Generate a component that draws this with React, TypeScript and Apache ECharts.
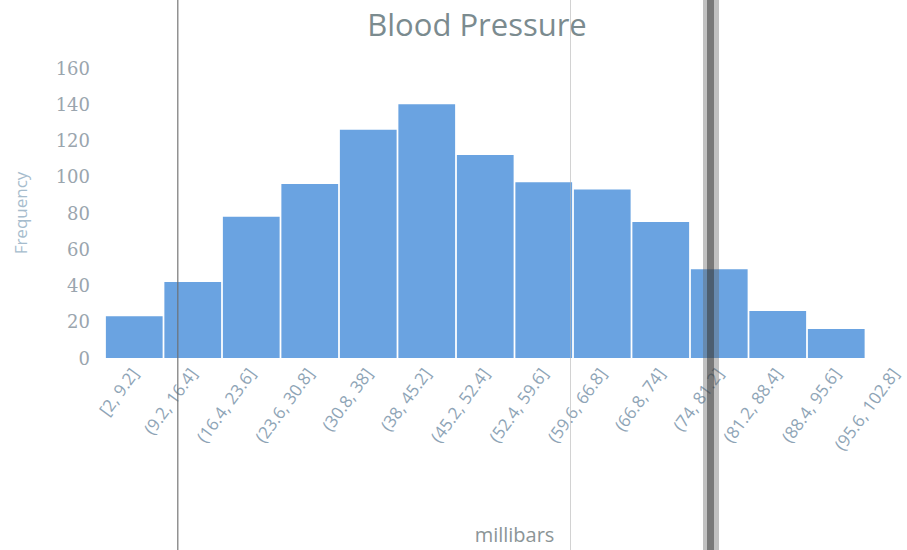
import React, { useEffect, useRef } from "react";
import * as echarts from "echarts";

const categories = [
  "[2, 9.2]", "(9.2, 16.4]", "(16.4, 23.6]", "(23.6, 30.8]", "(30.8, 38]",
  "(38, 45.2]", "(45.2, 52.4]", "(52.4, 59.6]", "(59.6, 66.8]", "(66.8, 74]",
  "(74, 81.2]", "(81.2, 88.4]", "(88.4, 95.6]", "(95.6, 102.8]",
];
const frequency = [23, 42, 78, 96, 126, 140, 112, 97, 93, 75, 49, 26, 16, 0];
const yTicks = { min: 0, max: 160, interval: 20 };

export default function App() {
  const ref = useRef<HTMLDivElement>(null);
  useEffect(() => {
    if (!ref.current) return;
    const chart = echarts.init(ref.current, null, { renderer: "svg" });
    chart.setOption({
      animation: false,
      backgroundColor: "#ffffff",
      title: {
        text: "Blood Pressure",
        left: 472,
        top: 3,
        textAlign: "center",
        textStyle: { fontFamily: "Open Sans", fontSize: 31, fontWeight: "normal", color: "#7b8b8f" },
      },
      grid: { left: 105, right: 11, top: 68, bottom: 192, containLabel: false },
      xAxis: {
        type: "category",
        data: categories,
        name: "millibars",
        nameLocation: "middle",
        nameGap: 166,
        nameTextStyle: { fontFamily: "Open Sans", fontSize: 20, color: "#8c9597" },
        axisLine: { show: false },
        axisTick: { show: false },
        axisLabel: {
          rotate: 54,
          interval: 0,
          margin: 12,
          fontFamily: "Open Sans",
          fontSize: 17,
          color: "#8ea4b6",
        },
      },
      yAxis: {
        type: "value",
        min: yTicks.min,
        max: yTicks.max,
        interval: yTicks.interval,
        name: "Frequency",
        nameLocation: "middle",
        nameGap: 76,
        nameRotate: 90,
        nameTextStyle: { fontFamily: "Open Sans", fontSize: 17, color: "#a6bccd" },
        splitLine: { show: false },
        axisLine: { show: false },
        axisTick: { show: false },
        axisLabel: { margin: 15, fontFamily: "DejaVu Serif", fontSize: 18, color: "#9aa5ae" },
      },
      series: [
        {
          type: "bar",
          data: frequency,
          barCategoryGap: "3%",
          itemStyle: { color: "#6aa3e1" },
        },
      ],
      graphic: [
        { type: "rect", z: 100, shape: { x: 177, y: 0, width: 1.5, height: 550 }, style: { fill: "rgba(110,110,110,0.75)" } },
        { type: "rect", z: 100, shape: { x: 570, y: 0, width: 1, height: 550 }, style: { fill: "rgba(180,180,180,0.6)" } },
        { type: "rect", z: 100, shape: { x: 703, y: 0, width: 16, height: 550 }, style: { fill: "rgba(100,100,100,0.4)" } },
        { type: "rect", z: 101, shape: { x: 707, y: 0, width: 7, height: 550 }, style: { fill: "rgba(50,50,50,0.5)" } },
      ],
    });
    return () => chart.dispose();
  }, []);
  return <div ref={ref} style={{ position: "fixed", left: 0, top: 0, width: 935, height: 550 }} />;
}
